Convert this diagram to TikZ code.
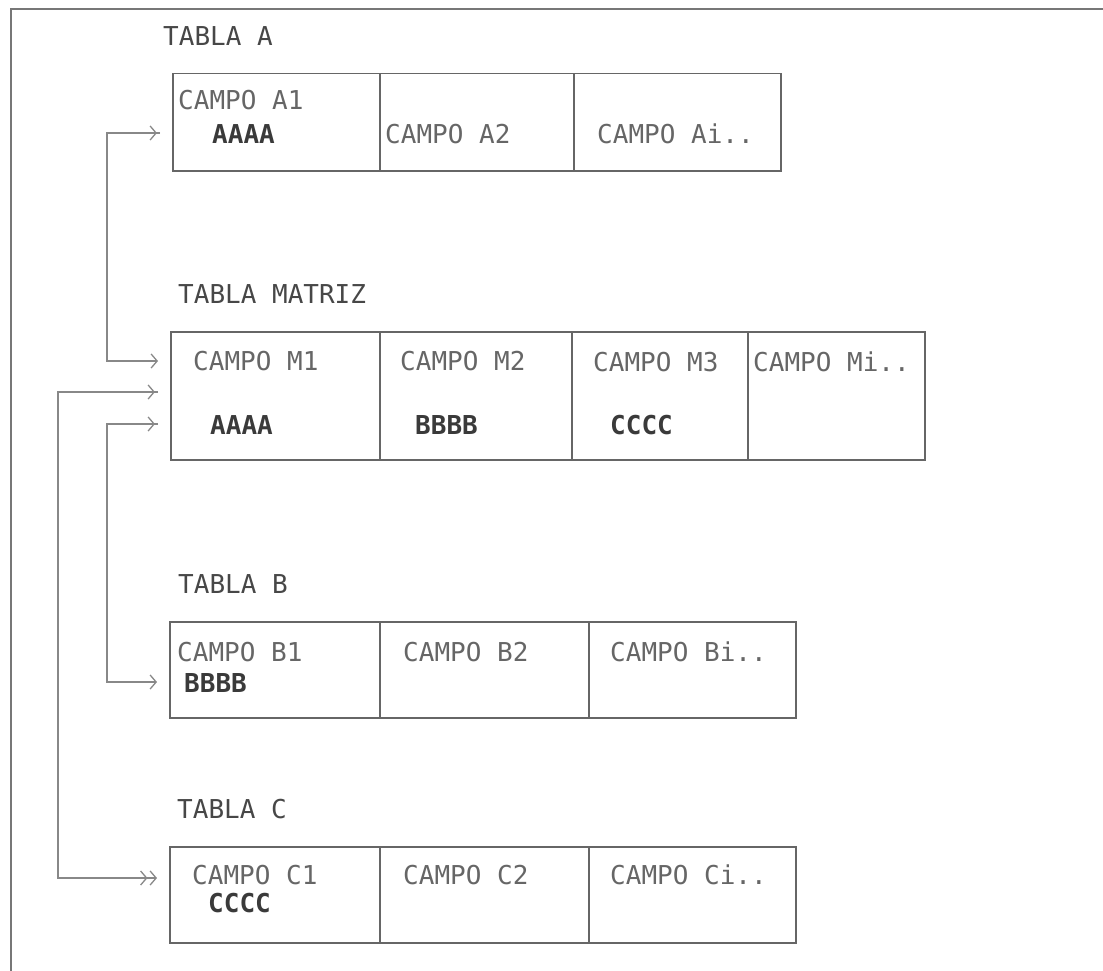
\documentclass[tikz,border=0pt]{standalone}
\usepackage{fontspec}
\newfontfamily\plotfont{DejaVu Sans Mono}
\usetikzlibrary{arrows.meta}
\definecolor{boxgray}{HTML}{666666}
\definecolor{conngray}{HTML}{888888}
\definecolor{txtgray}{HTML}{666666}
\definecolor{valgray}{HTML}{3A3A3A}
\definecolor{ttlgray}{HTML}{474747}
\definecolor{framegray}{HTML}{777777}
\begin{document}
\begin{tikzpicture}[x=1pt,y=-1pt,
  cell/.style={draw=boxgray, line width=1.5pt, inner sep=0pt, anchor=north west},
  lbl/.style={anchor=base west, inner sep=0pt, text=txtgray, font=\plotfont\fontsize{26}{30}\selectfont},
  val/.style={lbl, text=valgray, font=\plotfont\bfseries\fontsize{26}{30}\selectfont},
  ttl/.style={lbl, text=ttlgray},
  conn/.style={draw=conngray, line width=1.3pt},
  endbarb/.tip={Straight Barb[length=0.01pt,width=0.01pt,line width=0.01pt,sep=3pt] Straight Barb[length=6pt,width=14pt]},
  startbarb/.tip={Straight Barb[length=6pt,width=14pt,sep=3pt] Straight Barb[length=0.01pt,width=0.01pt,line width=0.01pt]},
  enddbl/.tip={Straight Barb[length=0.01pt,width=0.01pt,line width=0.01pt,sep=3pt] Straight Barb[length=6pt,width=14pt,sep=2pt] Straight Barb[length=6pt,width=14pt]},
  both/.style={startbarb-endbarb},
  bothdbl/.style={startbarb-enddbl}]
\useasboundingbox (0,0) rectangle (1103,971);
% frame
\draw[framegray, line width=1.3pt] (1103,9) -- (11,9) -- (11,971);

% Tabla A
\node[ttl] (tA) at (163,46) {TABLA A};
\node[cell, minimum width=207pt, minimum height=97pt] (A1) at (172,73) {};
\node[cell, minimum width=194pt, minimum height=97pt] (A2) at (379,73) {};
\node[cell, minimum width=207pt, minimum height=97pt] (A3) at (573,73) {};
\node[lbl] (a1t) at (178,110) {CAMPO A1};
\node[val] (a1v) at (212,143.5) {AAAA};
\node[lbl] (a2t) at (385,143.5) {CAMPO A2};
\node[lbl] (a3t) at (597,143.5) {CAMPO Ai..};

% Tabla Matriz
\node[ttl] (tM) at (178,303) {TABLA MATRIZ};
\node[cell, minimum width=209pt, minimum height=128pt] (M1) at (170,331) {};
\node[cell, minimum width=192pt, minimum height=128pt] (M2) at (379,331) {};
\node[cell, minimum width=176pt, minimum height=128pt] (M3) at (571,331) {};
\node[cell, minimum width=177pt, minimum height=128pt] (M4) at (747,331) {};
\node[lbl] (m1t) at (193,370) {CAMPO M1};
\node[lbl] (m2t) at (400,370) {CAMPO M2};
\node[lbl] (m3t) at (593,371) {CAMPO M3};
\node[lbl] (m4t) at (753,371) {CAMPO Mi..};
\node[val] (m1v) at (210,434) {AAAA};
\node[val] (m2v) at (415,434) {BBBB};
\node[val] (m3v) at (610,434) {CCCC};

% Tabla B
\node[ttl] (tB) at (178,593) {TABLA B};
\node[cell, minimum width=210pt, minimum height=96pt] (B1) at (169,621) {};
\node[cell, minimum width=209pt, minimum height=96pt] (B2) at (379,621) {};
\node[cell, minimum width=207pt, minimum height=96pt] (B3) at (588,621) {};
\node[lbl] (b1t) at (177,661) {CAMPO B1};
\node[val] (b1v) at (184,692) {BBBB};
\node[lbl] (b2t) at (403,661) {CAMPO B2};
\node[lbl] (b3t) at (610,661) {CAMPO Bi..};

% Tabla C
\node[ttl] (tC) at (177,818) {TABLA C};
\node[cell, minimum width=210pt, minimum height=96pt] (C1) at (169,846) {};
\node[cell, minimum width=209pt, minimum height=96pt] (C2) at (379,846) {};
\node[cell, minimum width=207pt, minimum height=96pt] (C3) at (588,846) {};
\node[lbl] (c1t) at (192,884) {CAMPO C1};
\node[val] (c1v) at (208,912) {CCCC};
\node[lbl] (c2t) at (403,884) {CAMPO C2};
\node[lbl] (c3t) at (610,884) {CAMPO Ci..};

% connector end points
\coordinate (pA) at (160,133);
\coordinate (pM1) at (158,361);
\coordinate (pM2) at (158,392);
\coordinate (pM3) at (158,424);
\coordinate (pB) at (157,682);
\coordinate (pC) at (157,878);
\coordinate (kA) at (107,133);
\coordinate (kM1) at (107,361);
\coordinate (kM3) at (107,424);
\coordinate (kB) at (107,682);
\coordinate (kM2) at (58,392);
\coordinate (kC) at (58,878);

\draw[conn, both] (pA) -- (kA) -- (kM1) -- (pM1);
\draw[conn, both] (pM3) -- (kM3) -- (kB) -- (pB);
\draw[conn, bothdbl] (pM2) -- (kM2) -- (kC) -- (pC);
\end{tikzpicture}
\end{document}
